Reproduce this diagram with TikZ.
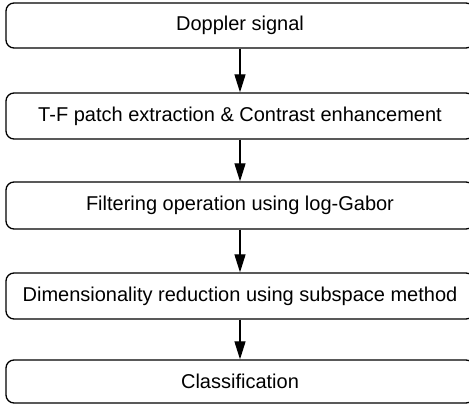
\documentclass[tikz,border=0pt]{standalone}
\usepackage{fontspec}
\setmainfont{Liberation Sans}
\usetikzlibrary{arrows.meta}
\begin{document}
\begin{tikzpicture}[x=1pt,y=1pt,
  stepbox/.style={draw=black, line width=1.3pt, rounded corners=8pt, minimum width=468pt, inner sep=0pt, font=\fontsize{20}{24}\selectfont, text=black},
  flow/.style={line width=1.3pt, -{Triangle[length=18pt,width=11pt]}}]
\useasboundingbox (0,0) rectangle (469,407);
\node[stepbox, minimum height=45pt] (b1) at (240,381.5) {Doppler signal};
\node[stepbox, minimum height=46pt] (b2) at (240,291) {T-F patch extraction \& Contrast enhancement};
\node[stepbox, minimum height=47pt] (b3) at (240,201.5) {Filtering operation using log-Gabor};
\node[stepbox, minimum height=46pt] (b4) at (240,111) {Dimensionality reduction using subspace method};
\node[stepbox, minimum height=43pt] (b5) at (240,25.5) {Classification};
\draw[flow] (b1.south) -- (b2.north);
\draw[flow] (b2.south) -- (b3.north);
\draw[flow] (b3.south) -- (b4.north);
\draw[flow] (b4.south) -- (b5.north);
\end{tikzpicture}
\end{document}
